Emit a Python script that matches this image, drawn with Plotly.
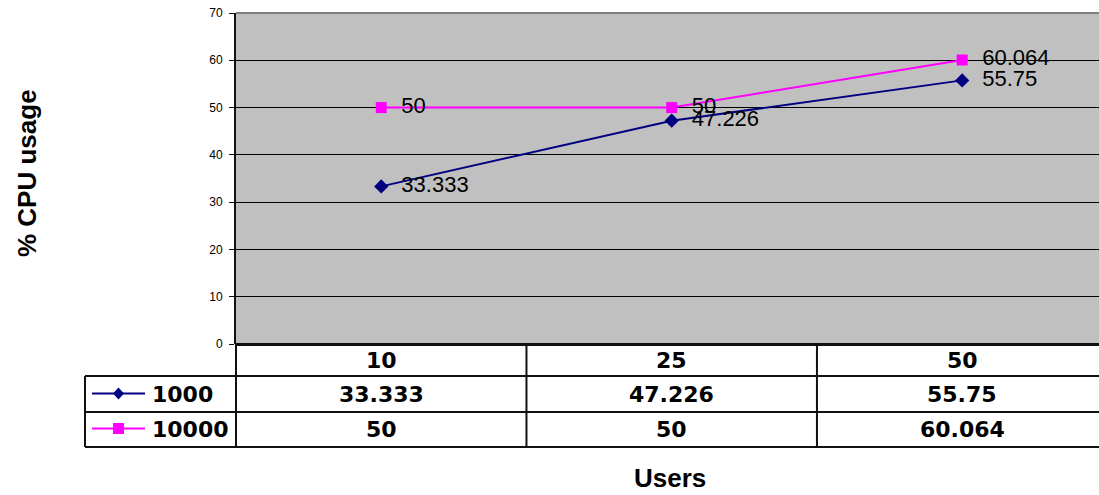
import plotly.graph_objects as go

# Chart data
users = ["10", "25", "50"]
series_names = ["1000", "10000"]
cpu_1000 = [33.333, 47.226, 55.75]
cpu_10000 = [50, 50, 60.064]
y_ticks = [0, 10, 20, 30, 40, 50, 60, 70]

W, H = 1099, 495
L, T, B = 236, 13, 151
PW, PH = W - L, H - T - B
X_MAX = 2.471  # last category column runs past the right edge


def px(x):
    return (x - L) / PW


def py(y):
    return (H - B - y) / PH


def cat_x(i):
    return (i + 0.5) / (X_MAX + 0.5)


NAVY = "#000080"
MAGENTA = "#FF00FF"
TABLE_FONT = dict(family="DejaVu Sans", size=22, color="black")
ARIAL = "Liberation Sans, Arial"
LABEL_FONT = dict(family=ARIAL, size=22, color="black")

fig = go.Figure()
fig.add_trace(go.Scatter(
    x=[0, 1, 2], y=cpu_1000, mode="lines+markers+text", name=series_names[0],
    line=dict(color=NAVY, width=2),
    marker=dict(symbol="diamond", size=11, color=NAVY),
    text=[f"  {v:g}" for v in cpu_1000], textposition="middle right",
    textfont=LABEL_FONT, cliponaxis=False,
))
fig.add_trace(go.Scatter(
    x=[0, 1, 2], y=cpu_10000, mode="lines+markers+text", name=series_names[1],
    line=dict(color=MAGENTA, width=2),
    marker=dict(symbol="square", size=11, color=MAGENTA),
    text=[f"  {v:g}" for v in cpu_10000], textposition="middle right",
    textfont=LABEL_FONT, cliponaxis=False,
))

annotations = []

# data table below the plot
row_centers = [360, 394, 429]
for i, u in enumerate(users):
    annotations.append(dict(x=cat_x(i), y=py(row_centers[0]), xref="paper", yref="paper",
                            text=f"<b>{u}</b>", showarrow=False, xanchor="center",
                            yanchor="middle", font=TABLE_FONT))
    for r, vals in enumerate((cpu_1000, cpu_10000)):
        annotations.append(dict(x=cat_x(i), y=py(row_centers[r + 1]), xref="paper", yref="paper",
                                text=f"<b>{vals[i]:g}</b>", showarrow=False, xanchor="center",
                                yanchor="middle", font=TABLE_FONT))
for r, name in enumerate(series_names):
    annotations.append(dict(x=px(150), y=py(row_centers[r + 1]), xref="paper", yref="paper",
                            text=f"<b>{name}</b>", showarrow=False, xanchor="left",
                            yanchor="middle", font=TABLE_FONT))

# axis titles
annotations.append(dict(x=px(27), y=py(173), xref="paper", yref="paper",
                        text="<b>% CPU usage</b>", textangle=-90, showarrow=False,
                        xanchor="center", yanchor="middle",
                        font=dict(family=ARIAL, size=26, color="black")))
annotations.append(dict(x=px(670), y=py(478), xref="paper", yref="paper", text="<b>Users</b>",
                        showarrow=False, xanchor="center", yanchor="middle",
                        font=dict(family=ARIAL, size=26, color="black")))

shapes = []
LINE = dict(color="#111111", width=2)
# table rules
for yy in (376, 412, 447):
    shapes.append(dict(type="line", xref="paper", yref="paper", x0=px(85), x1=px(W + 5),
                       y0=py(yy), y1=py(yy), line=LINE))
shapes.append(dict(type="line", xref="paper", yref="paper", x0=px(85), x1=px(85),
                   y0=py(376), y1=py(447), line=LINE))
for xb in (0, 1.0 / (X_MAX + 0.5), 2.0 / (X_MAX + 0.5)):
    shapes.append(dict(type="line", xref="paper", yref="paper", x0=xb, x1=xb,
                       y0=0, y1=py(447), line=LINE))
# top border of the plot area
shapes.append(dict(type="line", xref="paper", yref="paper", x0=0, x1=1.01, y0=1, y1=1,
                   line=dict(color="#808080", width=2)))

# legend keys inside the table
for r, (color, sym) in enumerate(((NAVY, "diamond"), (MAGENTA, "square"))):
    yc = row_centers[r + 1] - 0.5
    shapes.append(dict(type="line", xref="paper", yref="paper", x0=px(92), x1=px(145),
                       y0=py(yc), y1=py(yc), line=dict(color=color, width=2)))
    if sym == "square":
        shapes.append(dict(type="rect", xref="paper", yref="paper",
                           x0=px(113), x1=px(124), y0=py(yc - 5.5), y1=py(yc + 5.5),
                           fillcolor=color, line=dict(width=0)))
    else:
        path = (f"M {px(118.5 - 5.5)},{py(yc)} L {px(118.5)},{py(yc - 6)} "
                f"L {px(118.5 + 5.5)},{py(yc)} L {px(118.5)},{py(yc + 6)} Z")
        shapes.append(dict(type="path", xref="paper", yref="paper", path=path,
                           fillcolor=color, line=dict(width=0)))

fig.update_layout(
    width=W, height=H,
    margin=dict(l=L, r=0, t=T, b=B, pad=0),
    paper_bgcolor="white",
    plot_bgcolor="#C0C0C0",
    showlegend=False,
    annotations=annotations,
    shapes=shapes,
    xaxis=dict(range=[-0.5, X_MAX], showticklabels=False,
               showgrid=False, zeroline=False, showline=False, ticks=""),
    yaxis=dict(range=[0, 70], tickvals=y_ticks, showgrid=True, gridcolor="#000000",
               gridwidth=1, zeroline=True, zerolinecolor="#111111", zerolinewidth=3,
               showline=True, linecolor="#111111", linewidth=2,
               ticks="outside", ticklen=5, tickcolor="#111111", ticklabelstandoff=4,
               tickfont=dict(family=ARIAL, size=12, color="black")),
)

fig.write_html("out.html")
